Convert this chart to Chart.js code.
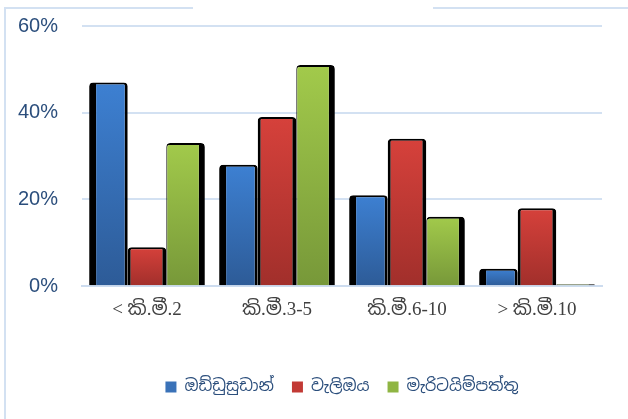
<!DOCTYPE html>
<html>
<head>
<meta charset="utf-8">
<script src="https://cdn.jsdelivr.net/npm/chart.js@4/dist/chart.umd.min.js"></script>
<style>
  html, body { margin: 0; padding: 0; background: #ffffff; }
  #wrap { position: relative; width: 628px; height: 419px; }
</style>
</head>
<body>
<div id="wrap"><canvas id="c" width="628" height="419"></canvas></div>
<script>
// Distance bands
const categories = ['< කි.මී.2', 'කි.මී.3-5', 'කි.මී.6-10', '> කි.මී.10'];
// Share of respondents per division (%)
const seriesNames = ['ඔඩ්ඩුසුඩාන්', 'වැලිඔය', 'මැරිටයිම්පත්තු'];
const oddusuddan = [47, 28, 21, 4];
const weliOya = [9, 39, 34, 18];
const maritimepattu = [33, 51, 16, 0];
const yTicks = [0, 20, 40, 60];

const shades = [
  { top: '#3d80d2', bottom: '#2d5b97', flat: '#3a72b8' },
  { top: '#d6413b', bottom: '#a12f2b', flat: '#c23a35' },
  { top: '#a2ca4b', bottom: '#779839', flat: '#8fb543' }
];

function barGradient(idx) {
  return function (ctx) {
    const chart = ctx.chart;
    const y = chart.scales && chart.scales.y;
    if (!y || ctx.parsed === undefined) return shades[idx].flat;
    const v = ctx.parsed.y || 0;
    const top = y.getPixelForValue(v);
    const base = y.getPixelForValue(0);
    if (!isFinite(top) || !isFinite(base) || base - top < 1) return shades[idx].flat;
    const g = chart.ctx.createLinearGradient(0, top, 0, base);
    g.addColorStop(0, shades[idx].top);
    g.addColorStop(1, shades[idx].bottom);
    return g;
  };
}

// Light blue frame around the chart box
const framePlugin = {
  id: 'frame',
  beforeDraw(chart) {
    const c = chart.ctx;
    c.save();
    c.strokeStyle = '#d3e1f2';
    c.lineWidth = 2;
    c.beginPath();
    c.moveTo(5, 419); c.lineTo(5, 8); c.lineTo(193, 8);
    c.moveTo(433, 8); c.lineTo(628, 8);
    c.stroke();
    c.restore();
  }
};

const common = {
  borderColor: '#000000',
  borderRadius: { topLeft: 4, topRight: 4, bottomLeft: 0, bottomRight: 0 },
  borderSkipped: 'bottom'
};

new Chart(document.getElementById('c'), {
  type: 'bar',
  data: {
    labels: categories,
    datasets: [
      Object.assign({ label: seriesNames[0], data: oddusuddan, backgroundColor: barGradient(0),
        borderWidth: { left: 7, right: 3, top: 2, bottom: 0 } }, common),
      Object.assign({ label: seriesNames[1], data: weliOya, backgroundColor: barGradient(1),
        borderWidth: { left: 3, right: 4, top: 2, bottom: 0 } }, common),
      Object.assign({ label: seriesNames[2], data: maritimepattu, backgroundColor: barGradient(2),
        borderWidth: { left: 1, right: 6, top: 2, bottom: 0 }, minBarLength: 2 }, common)
    ]
  },
  options: {
    responsive: false,
    animation: false,
    devicePixelRatio: 1,
    layout: { padding: { left: 0, right: 26, top: 26, bottom: 14 } },
    datasets: { bar: { categoryPercentage: 0.89, barPercentage: 1.0 } },
    scales: {
      x: {
        afterFit(scale) { scale.height += 28; },
        grid: { display: false, drawTicks: false },
        border: { display: true, color: '#cddcef', width: 2 },
        ticks: {
          padding: 12,
          color: '#404040',
          font: { family: '"Liberation Serif", "Noto Sans Sinhala", serif', size: 19 }
        }
      },
      y: {
        min: 0,
        max: 60,
        afterBuildTicks(scale) { scale.ticks = yTicks.map(v => ({ value: v })); },
        afterFit(scale) { scale.width = 82; },
        grid: { color: '#d3e1f2', lineWidth: 2, drawTicks: true, tickLength: 24, tickColor: 'rgba(0,0,0,0)' },
        border: { display: false },
        ticks: {
          padding: 0,
          color: '#2b4e7c',
          font: { family: '"Liberation Sans", "Open Sans", sans-serif', size: 20 },
          callback: v => v + '%'
        }
      }
    },
    plugins: {
      tooltip: { enabled: false },
      legend: {
        position: 'bottom',
        fullSize: false,
        labels: {
          boxWidth: 11,
          boxHeight: 11,
          padding: 18,
          color: '#2b4e7c',
          font: { family: '"Noto Sans Sinhala", "Noto Sans", sans-serif', size: 16 },
          generateLabels(chart) {
            return chart.data.datasets.map((ds, i) => ({
              text: ds.label,
              fillStyle: shades[i].flat,
              strokeStyle: shades[i].flat,
              lineWidth: 0,
              hidden: false,
              datasetIndex: i,
              fontColor: '#2b4e7c'
            }));
          }
        }
      }
    }
  },
  plugins: [framePlugin]
});
</script>
</body>
</html>
